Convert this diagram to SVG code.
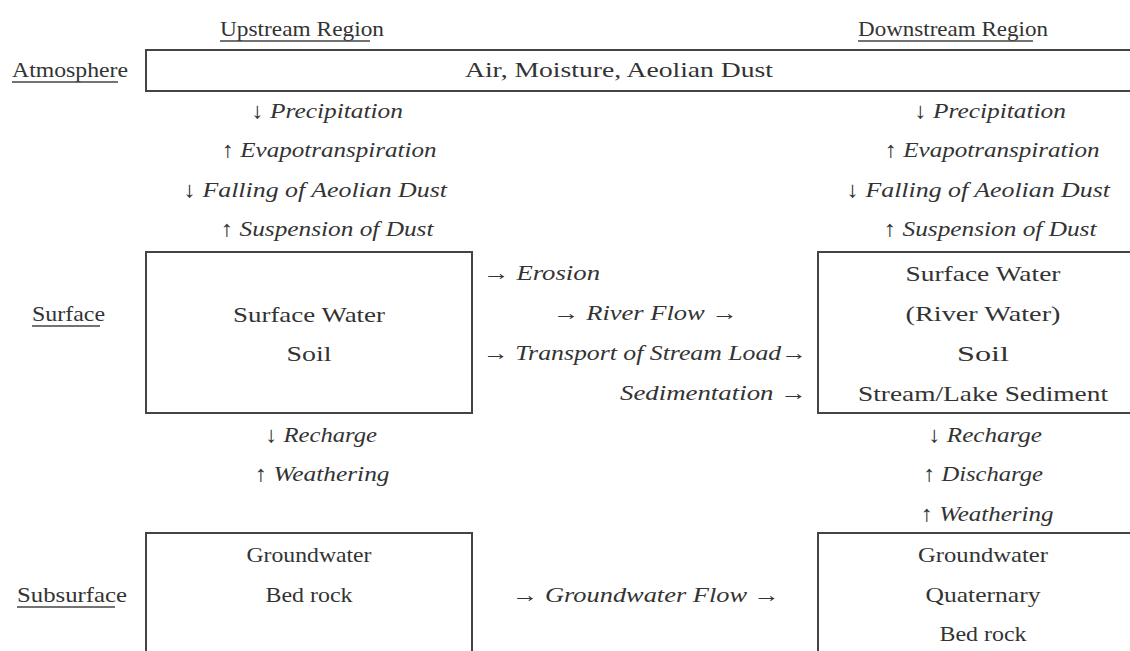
<svg xmlns="http://www.w3.org/2000/svg" width="1130" height="651" viewBox="0 0 1130 651">
<style>
text{font-family:"Liberation Serif","Times New Roman",serif;font-size:22px;fill:#333;}
.it{font-style:italic;}
.m{text-anchor:middle;}
.box{fill:none;stroke:#444;stroke-width:2;}
.ul{stroke:#444;stroke-width:1.5;}
</style>
<rect width="1130" height="651" fill="#fff"/>
<g id="headers">
<text x="220" y="36" textLength="164" lengthAdjust="spacingAndGlyphs">Upstream Region</text>
<line class="ul" x1="220" y1="41" x2="370" y2="41"/>
<text x="858" y="36" textLength="190" lengthAdjust="spacingAndGlyphs">Downstream Region</text>
<line class="ul" x1="858" y1="41" x2="1033" y2="41"/>
</g>
<g id="row-labels">
<text x="12" y="77" textLength="116" lengthAdjust="spacingAndGlyphs">Atmosphere</text>
<line class="ul" x1="12" y1="82" x2="118" y2="82"/>
<text x="32" y="321" textLength="73" lengthAdjust="spacingAndGlyphs">Surface</text>
<line class="ul" x1="32" y1="326" x2="100" y2="326"/>
<text x="17" y="602" textLength="110" lengthAdjust="spacingAndGlyphs">Subsurface</text>
<line class="ul" x1="17" y1="607" x2="115" y2="607"/>
</g>
<g id="atmosphere">
<rect class="box" x="146" y="50" width="1000" height="41"/>
<text x="465" y="77" textLength="308" lengthAdjust="spacingAndGlyphs">Air,  Moisture,  Aeolian Dust</text>
</g>
<g id="upstream-surface">
<rect class="box" x="146" y="252" width="326" height="161"/>
<text class="m" x="309" y="322" textLength="152" lengthAdjust="spacingAndGlyphs">Surface  Water</text>
<text class="m" x="309" y="361" textLength="45" lengthAdjust="spacingAndGlyphs">Soil</text>
</g>
<g id="downstream-surface">
<rect class="box" x="818" y="252" width="330" height="161"/>
<text class="m" x="983" y="281" textLength="155" lengthAdjust="spacingAndGlyphs">Surface  Water</text>
<text class="m" x="983" y="321" textLength="155" lengthAdjust="spacingAndGlyphs">(River Water)</text>
<text class="m" x="983" y="361" textLength="52" lengthAdjust="spacingAndGlyphs">Soil</text>
<text class="m" x="983" y="401" textLength="250" lengthAdjust="spacingAndGlyphs">Stream/Lake Sediment</text>
</g>
<g id="upstream-subsurface">
<rect class="box" x="146" y="533" width="326" height="140"/>
<text class="m" x="309" y="562" textLength="125" lengthAdjust="spacingAndGlyphs">Groundwater</text>
<text class="m" x="309" y="602" textLength="87" lengthAdjust="spacingAndGlyphs">Bed rock</text>
</g>
<g id="downstream-subsurface">
<rect class="box" x="818" y="533" width="330" height="140"/>
<text class="m" x="983" y="562" textLength="130" lengthAdjust="spacingAndGlyphs">Groundwater</text>
<text class="m" x="983" y="602" textLength="115" lengthAdjust="spacingAndGlyphs">Quaternary</text>
<text class="m" x="983" y="641" textLength="87" lengthAdjust="spacingAndGlyphs">Bed rock</text>
</g>
<g id="connectors">
<text class="it m" x="327" y="118" textLength="152" lengthAdjust="spacingAndGlyphs">↓ Precipitation</text>
<text class="it m" x="329" y="157" textLength="215" lengthAdjust="spacingAndGlyphs">↑ Evapotranspiration</text>
<text class="it m" x="315" y="197" textLength="264" lengthAdjust="spacingAndGlyphs">↓ Falling of  Aeolian Dust</text>
<text class="it m" x="327" y="236" textLength="213" lengthAdjust="spacingAndGlyphs">↑ Suspension of Dust</text>
<text class="it m" x="990" y="118" textLength="152" lengthAdjust="spacingAndGlyphs">↓ Precipitation</text>
<text class="it m" x="992" y="157" textLength="215" lengthAdjust="spacingAndGlyphs">↑ Evapotranspiration</text>
<text class="it m" x="978" y="197" textLength="264" lengthAdjust="spacingAndGlyphs">↓ Falling of  Aeolian Dust</text>
<text class="it m" x="990" y="236" textLength="213" lengthAdjust="spacingAndGlyphs">↑ Suspension of Dust</text>
<text class="it" x="483" y="280" textLength="117" lengthAdjust="spacingAndGlyphs">→ Erosion</text>
<text class="it" x="553" y="320" textLength="185" lengthAdjust="spacingAndGlyphs">→ River Flow  →</text>
<text class="it" x="483" y="360" textLength="324" lengthAdjust="spacingAndGlyphs">→ Transport of Stream Load→</text>
<text class="it" x="620" y="400" textLength="187" lengthAdjust="spacingAndGlyphs">Sedimentation →</text>
<text class="it m" x="321" y="442" textLength="112" lengthAdjust="spacingAndGlyphs">↓ Recharge</text>
<text class="it m" x="322" y="481" textLength="135" lengthAdjust="spacingAndGlyphs">↑ Weathering</text>
<text class="it m" x="985" y="442" textLength="114" lengthAdjust="spacingAndGlyphs">↓ Recharge</text>
<text class="it m" x="983" y="481" textLength="120" lengthAdjust="spacingAndGlyphs">↑ Discharge</text>
<text class="it m" x="987" y="521" textLength="133" lengthAdjust="spacingAndGlyphs">↑ Weathering</text>
<text class="it" x="512" y="602" textLength="268" lengthAdjust="spacingAndGlyphs">→ Groundwater Flow  →</text>
</g>
</svg>
